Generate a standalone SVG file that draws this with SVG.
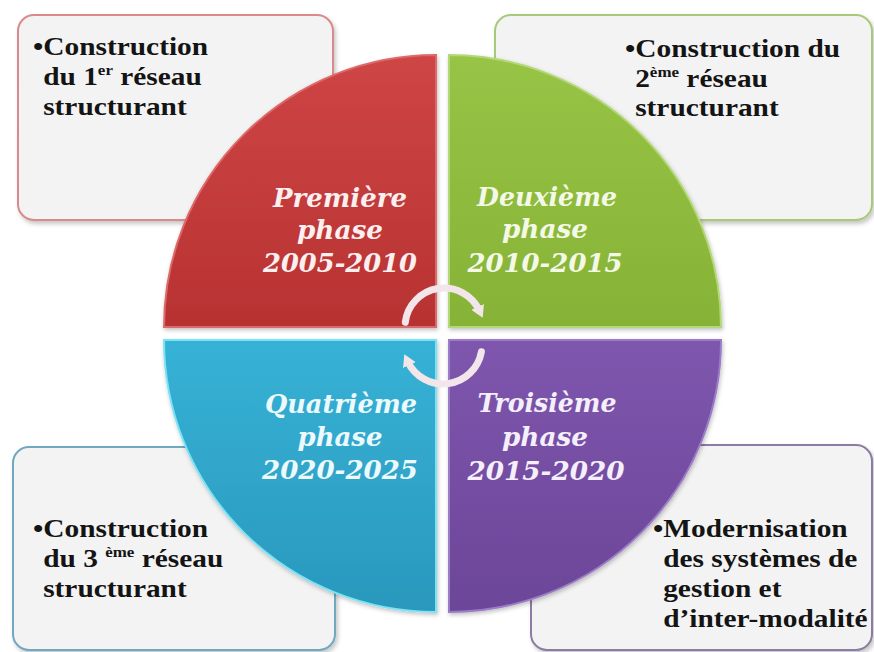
<svg xmlns="http://www.w3.org/2000/svg" width="874" height="652" viewBox="0 0 874 652">
<defs>
<style>
.box{fill:#f3f3f3;stroke-width:2;filter:url(#sh)}
.bt{font-weight:bold;font-size:26px;fill:#141414}
.sup{font-size:15px}
.ph{font-weight:bold;font-style:italic;font-size:26px;text-anchor:middle}
.ring{fill:none;stroke:#f2e6ea;stroke-width:7;stroke-linecap:round}
</style>
<filter id="sh" x="-10%" y="-10%" width="120%" height="120%">
<feDropShadow dx="2" dy="3" stdDeviation="2" flood-color="#000" flood-opacity="0.22"/>
</filter>
<filter id="qs" x="-10%" y="-10%" width="120%" height="120%">
<feDropShadow dx="1" dy="2" stdDeviation="2" flood-color="#000" flood-opacity="0.25"/>
</filter>
<linearGradient id="gr" x1="0" y1="0" x2="0" y2="1"><stop offset="0" stop-color="#cf4545"/><stop offset="1" stop-color="#b83232"/></linearGradient>
<linearGradient id="gg" x1="0" y1="0" x2="0" y2="1"><stop offset="0" stop-color="#98c446"/><stop offset="1" stop-color="#86b236"/></linearGradient>
<linearGradient id="gc" x1="0" y1="0" x2="0" y2="1"><stop offset="0" stop-color="#36b2d6"/><stop offset="1" stop-color="#2a98bd"/></linearGradient>
<linearGradient id="gp" x1="0" y1="0" x2="0" y2="1"><stop offset="0" stop-color="#7e56ae"/><stop offset="1" stop-color="#6c4698"/></linearGradient>
<marker id="ah" markerUnits="userSpaceOnUse" markerWidth="16" markerHeight="16" refX="4" refY="8" orient="auto">
<path d="M0,1 L12,8 L0,15 Z" fill="#f2e6ea"/>
</marker>
</defs>
<rect width="874" height="652" fill="#ffffff"/>

<g id="box-tl">
<rect class="box" x="18" y="15" width="315" height="205" rx="16" stroke="#d98a8a"/>
<g transform="translate(33 0) scale(1.13 1)" font-family="'Liberation Serif', 'DejaVu Serif', serif">
<text class="bt" x="0" y="55">•Construction</text>
<text class="bt" x="9" y="85">du 1<tspan class="sup" dy="-10">er</tspan><tspan dy="10"> réseau</tspan></text>
<text class="bt" x="9" y="115">structurant</text>
</g>
</g>

<g id="box-tr">
<rect class="box" x="495" y="15" width="377" height="205" rx="16" stroke="#a9c97a"/>
<g transform="translate(625 0) scale(1.13 1)" font-family="'Liberation Serif', 'DejaVu Serif', serif">
<text class="bt" x="0" y="57">•Construction du</text>
<text class="bt" x="9" y="87">2<tspan class="sup" dy="-10">ème</tspan><tspan dy="10"> réseau</tspan></text>
<text class="bt" x="9" y="116">structurant</text>
</g>
</g>

<g id="box-bl">
<rect class="box" x="13" y="447" width="322" height="203" rx="16" stroke="#6fa8bf"/>
<g transform="translate(33 0) scale(1.13 1)" font-family="'Liberation Serif', 'DejaVu Serif', serif">
<text class="bt" x="0" y="537">•Construction</text>
<text class="bt" x="9" y="567">du 3 <tspan class="sup" dy="-10">ème</tspan><tspan dy="10"> réseau</tspan></text>
<text class="bt" x="9" y="597">structurant</text>
</g>
</g>

<g id="box-br">
<rect class="box" x="531" y="445" width="341" height="205" rx="16" stroke="#8c7ca2"/>
<g transform="translate(653 0) scale(1.13 1)" font-family="'Liberation Serif', 'DejaVu Serif', serif">
<text class="bt" x="0" y="537">•Modernisation</text>
<text class="bt" x="9" y="567">des systèmes de</text>
<text class="bt" x="9" y="597">gestion et</text>
<text class="bt" x="9" y="627">d’inter-modalité</text>
</g>
</g>

<g id="q-red" font-family="'DejaVu Serif', 'Liberation Serif', serif">
<path d="M436 327 L164 327 A272 272 0 0 1 436 55 Z" fill="url(#gr)" stroke="#dc6a6a" stroke-width="2" filter="url(#qs)"/>
<text class="ph" fill="#fbefef" x="340" y="207" textLength="134" lengthAdjust="spacingAndGlyphs">Première</text>
<text class="ph" fill="#fbefef" x="340" y="239" textLength="86" lengthAdjust="spacingAndGlyphs">phase</text>
<text class="ph" fill="#fbefef" x="340" y="272" textLength="154" lengthAdjust="spacingAndGlyphs">2005-2010</text>
</g>

<g id="q-green" font-family="'DejaVu Serif', 'Liberation Serif', serif">
<path d="M449 327 L449 55 A272 272 0 0 1 721 327 Z" fill="url(#gg)" stroke="#b4d878" stroke-width="2" filter="url(#qs)"/>
<text class="ph" fill="#f3f9e6" x="547" y="206" textLength="140" lengthAdjust="spacingAndGlyphs">Deuxième</text>
<text class="ph" fill="#f3f9e6" x="545" y="238" textLength="86" lengthAdjust="spacingAndGlyphs">phase</text>
<text class="ph" fill="#f3f9e6" x="545" y="272" textLength="155" lengthAdjust="spacingAndGlyphs">2010-2015</text>
</g>

<g id="q-purple" font-family="'DejaVu Serif', 'Liberation Serif', serif">
<path d="M449 340 L721 340 A272 272 0 0 1 449 612 Z" fill="url(#gp)" stroke="#9b7cc6" stroke-width="2" filter="url(#qs)"/>
<text class="ph" fill="#f4effb" x="547" y="412" textLength="139" lengthAdjust="spacingAndGlyphs">Troisième</text>
<text class="ph" fill="#f4effb" x="545" y="446" textLength="86" lengthAdjust="spacingAndGlyphs">phase</text>
<text class="ph" fill="#f4effb" x="546" y="480" textLength="157" lengthAdjust="spacingAndGlyphs">2015-2020</text>
</g>

<g id="q-cyan" font-family="'DejaVu Serif', 'Liberation Serif', serif">
<path d="M436 340 L436 612 A272 272 0 0 1 164 340 Z" fill="url(#gc)" stroke="#7be2f6" stroke-width="2" filter="url(#qs)"/>
<text class="ph" fill="#ecf9fd" x="341" y="413" textLength="152" lengthAdjust="spacingAndGlyphs">Quatrième</text>
<text class="ph" fill="#ecf9fd" x="340" y="446" textLength="85" lengthAdjust="spacingAndGlyphs">phase</text>
<text class="ph" fill="#ecf9fd" x="340" y="479" textLength="156" lengthAdjust="spacingAndGlyphs">2020-2025</text>
</g>

<g id="connectors">
<path class="ring" d="M405.3 322.2 A39 39 0 0 1 479.3 310.5" marker-end="url(#ah)"/>
<path class="ring" d="M481.4 351.8 A39 39 0 0 1 407.7 361.5" marker-end="url(#ah)"/>
</g>
</svg>
